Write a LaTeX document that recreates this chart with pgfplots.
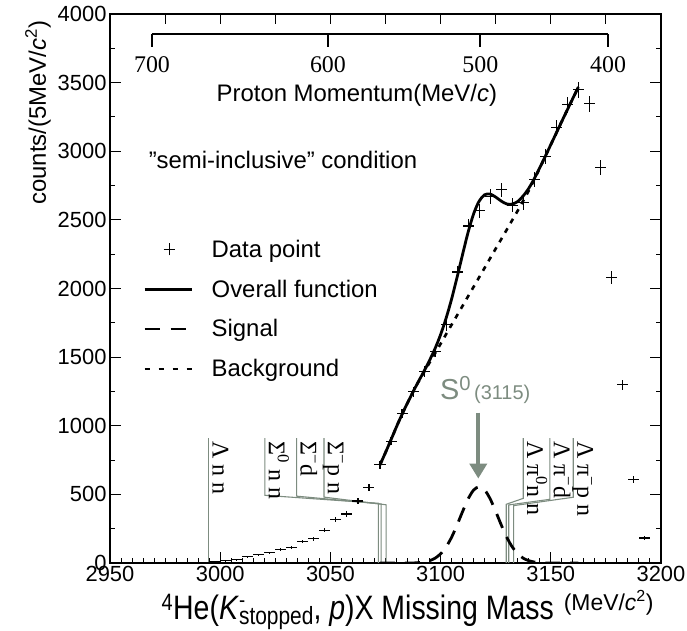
\documentclass[border=0pt]{standalone}
\usepackage{fontspec}
\setmainfont{Liberation Sans}
\newfontfamily\serif{Liberation Serif}
\newfontfamily\narrow[FakeStretch=0.84]{Liberation Sans}
\usepackage{pgfplots}
\usepackage{pgfplotstable}
\pgfplotsset{compat=1.18}
\usetikzlibrary{arrows.meta}
\definecolor{annot}{RGB}{125,140,128}

% data points: bin centre, counts, error
\pgfplotstableread{
x y ey
2992.5 3 1.7
2997.5 8 2.8
3002.5 15 3.9
3007.5 25 5.0
3012.5 45 6.7
3017.5 60 7.7
3022.5 75 8.7
3027.5 100 10.0
3032.5 111 10.5
3037.5 155 12.4
3042.5 177 13.3
3047.5 240 15.5
3052.5 318 17.8
3057.5 357 18.9
3062.5 452 21.3
3067.5 549 23.4
3072.5 715 26.7
3077.5 887 29.8
3082.5 1090 33.0
3087.5 1248 35.3
3092.5 1395 37.3
3097.5 1542 39.3
3102.5 1735 41.7
3107.5 2120 46.0
3112.5 2455 49.5
3117.5 2567 50.7
3122.5 2670 51.7
3127.5 2720 52.2
3132.5 2605 51.0
3137.5 2625 51.2
3142.5 2793 52.8
3147.5 2962 54.4
3152.5 3170 56.3
3157.5 3340 57.8
3162.5 3447 58.7
3167.5 3345 57.8
3172.5 2880 53.7
3177.5 2080 45.6
3182.5 1300 36.1
3187.5 606 24.6
3192.5 182 13.5
}\data

% fit curves: overall, signal, background
\pgfplotstableread{
x all sig bg
3072.5 715 0 715
3075 805 0 805
3077.5 898 0 898
3080 993 0 993
3082.5 1083 0 1083
3085 1167 0 1167
3087.5 1247 0 1247
3090 1324 3 1321
3092.5 1398 7 1391
3095 1477 17 1460
3097.5 1563 35 1528
3100 1664 67 1597
3102.5 1784 117 1667
3105 1924 188 1736
3107.5 2083 278 1805
3110 2250 376 1874
3112.5 2411 467 1944
3115 2545 532 2013
3117.5 2637 555 2082
3120 2683 532 2151
3122.5 2688 467 2221
3125 2666 376 2290
3127.5 2637 278 2359
3130 2616 188 2428
3132.5 2615 117 2498
3135 2634 67 2567
3137.5 2675 35 2640
3140 2730 17 2713
3142.5 2800 7 2793
3145 2880 3 2877
3147.5 2963 0 2963
3150 3048 0 3048
3152.5 3133 0 3133
3155 3218 0 3218
3157.5 3302 0 3302
3160 3385 0 3385
3162.5 3468 0 3468
}\fit

\begin{document}
\begin{tikzpicture}
\begin{axis}[
    scale only axis,
    width=551bp, height=549bp,
    xmin=2950, xmax=3200, ymin=0, ymax=4000,
    xtick={2950,3000,...,3200}, ytick={0,500,...,4000},
    minor x tick num=9, minor y tick num=1,
    xtick pos=bottom, ytick pos=both,
    tick align=inside,
    major tick length=11bp, minor tick length=5bp,
    axis line style={line width=1.3bp},
    every tick/.style={black, line width=1bp},
    tick label style={font=\fontsize{22}{22}\selectfont},
    /pgf/number format/assume math mode=true,
    /pgf/number format/1000 sep={},
    ylabel={counts/(5MeV/\textit{c}\textsuperscript{2})},
    ylabel style={at={(ticklabel cs:0.82)}, font=\fontsize{24}{24}\selectfont},
    xlabel={{\narrow\fontsize{34}{28}\selectfont\textsuperscript{4}He(\textit{K}\rlap{\raisebox{12bp}{\fontsize{22}{22}\selectfont -}}\raisebox{-5bp}{\fontsize{25}{25}\selectfont stopped}, \textit{p})X Missing Mass}\hspace{10bp}\raisebox{9bp}{\fontsize{23}{23}\selectfont(MeV/\textit{c}\textsuperscript{2})}},
    xlabel style={at={(axis description cs:0.540,-0.103)}, anchor=base, inner sep=0pt},
    legend style={at={(axis cs:2965,2355)}, anchor=north west, draw=none, fill=none,
        font=\fontsize{24}{24}\selectfont, row sep=21bp, inner sep=0pt,
        nodes={inner sep=0pt}},
    legend cell align=left,
]

% threshold markers
\addplot[annot, line width=1.1bp, forget plot] coordinates {(2994.8,910) (2994.8,0)};
\addplot[annot, line width=1.1bp, forget plot] coordinates {(3020.3,910) (3020.3,493) (3071.8,435) (3071.8,0)};
\addplot[annot, line width=1.1bp, forget plot] coordinates {(3034.7,910) (3034.7,487) (3073.0,430) (3073.0,0)};
\addplot[annot, line width=1.1bp, forget plot] coordinates {(3047.1,910) (3047.1,480) (3075.3,424) (3075.3,0)};
\addplot[annot, line width=1.1bp, forget plot] coordinates {(3137.5,910) (3137.5,471) (3129.8,428) (3129.8,0)};
\addplot[annot, line width=1.1bp, forget plot] coordinates {(3149.6,910) (3149.6,464) (3130.9,423) (3130.9,0)};
\addplot[annot, line width=1.1bp, forget plot] coordinates {(3160.2,910) (3160.2,479) (3133.1,418) (3133.1,0)};

\begin{scope}[every node/.style={rotate=-90, anchor=base west, inner sep=0pt, font=\serif\fontsize{24}{24}\selectfont}]
\node at (axis cs:2996.6,890) {Λ n n};
\node at (axis cs:3022.1,890) {Σ\textsuperscript{0} n n};
\node at (axis cs:3036.5,890) {Σ\textsuperscript{−}d};
\node at (axis cs:3048.9,890) {Σ\textsuperscript{−}p n};
\node at (axis cs:3139.3,890) {Λ π\textsuperscript{0}n n};
\node at (axis cs:3151.4,890) {Λ π\textsuperscript{−}d};
\node at (axis cs:3162.0,890) {Λ π\textsuperscript{−}p n};
\end{scope}

% S0 arrow
\addplot[annot, line width=4bp, -{Triangle[width=17bp,length=15bp]}, forget plot] coordinates {(3117.1,1095) (3117.1,615)};
\node[anchor=base west, inner sep=0pt, text=annot] at (axis cs:3099.7,1188)
    {\fontsize{29}{29}\selectfont S\textsuperscript{0}\hspace{3bp}\fontsize{20}{20}\selectfont(3115)};

% proton momentum scale
\addplot[black, line width=1.8bp, forget plot] coordinates {(2969.05,3854) (3176.0,3854)};
\addplot[black, line width=1.8bp, forget plot] coordinates {(2969.05,3854) (2969.05,3756)};
\addplot[black, line width=1.8bp, forget plot] coordinates {(3048.9,3854) (3048.9,3756)};
\addplot[black, line width=1.8bp, forget plot] coordinates {(3118.05,3854) (3118.05,3756)};
\addplot[black, line width=1.8bp, forget plot] coordinates {(3176.0,3854) (3176.0,3756)};
\begin{scope}[every node/.style={inner sep=0pt, font=\serif\fontsize{24}{24}\selectfont}]
\node at (axis cs:2969.05,3630) {700};
\node at (axis cs:3048.9,3630) {600};
\node at (axis cs:3118.05,3630) {500};
\node at (axis cs:3176.0,3630) {400};
\end{scope}
\node[font=\fontsize{24}{24}\selectfont] at (axis cs:3062,3410) {Proton Momentum(MeV/\textit{c})};
\node[anchor=west, font=\fontsize{24}{24}\selectfont] at (axis cs:2966,2936) {\char34 semi-inclusive\char34\ condition};

% data
\addplot[draw=none, mark=none,
    legend image code/.code={\path[draw=none] (0,-6bp) rectangle (67bp,6bp); \draw[line width=1.1bp] (19bp,0)--(30bp,0) (24.5bp,-6bp)--(24.5bp,6bp);},
    error bars/.cd, x dir=both, x fixed=2.5, y dir=both, y explicit,
    error mark=none, error bar style={line width=1.1bp, black}]
    table[x=x, y=y, y error=ey] {\data};
\addlegendentry{Data point}

\addplot[black, line width=2.8bp, smooth,
    legend image code/.code={\path[draw=none] (0,0)--(67bp,0); \draw[line width=2.8bp] (0,0)--(47bp,0);}]
    table[x=x, y=all] {\fit};
\addlegendentry{Overall function}

\addplot[black, line width=2.8bp, smooth, dash pattern=on 15bp off 10bp,
    legend image code/.code={\path[draw=none] (0,0)--(67bp,0); \draw[line width=2.8bp, solid] (0,0)--(15bp,0) (26bp,0)--(41bp,0);}]
    table[x=x, y=sig] {\fit};
\addlegendentry{Signal}

\addplot[black, line width=2.6bp, smooth, dash pattern=on 5bp off 6bp,
    legend image code/.code={\path[draw=none] (0,0)--(67bp,0); \draw[line width=2.6bp, dash pattern=on 5bp off 9bp] (0,0)--(47bp,0);}]
    table[x=x, y=bg] {\fit};
\addlegendentry{Background}
\end{axis}

% top frame ticks
\begin{axis}[
    scale only axis, width=551bp, height=549bp,
    xmin=2950, xmax=3200, ymin=0, ymax=4000,
    axis x line*=top, axis y line=none,
    xtick={2950,2975,...,3200}, xticklabels={},
    tick align=inside, major tick length=10bp,
    axis line style={line width=1.3bp},
    every tick/.style={black, line width=1bp},
]
\end{axis}
\pgfresetboundingbox
\path (-110bp,-68bp) rectangle (577bp,563bp);
\end{tikzpicture}
\end{document}
